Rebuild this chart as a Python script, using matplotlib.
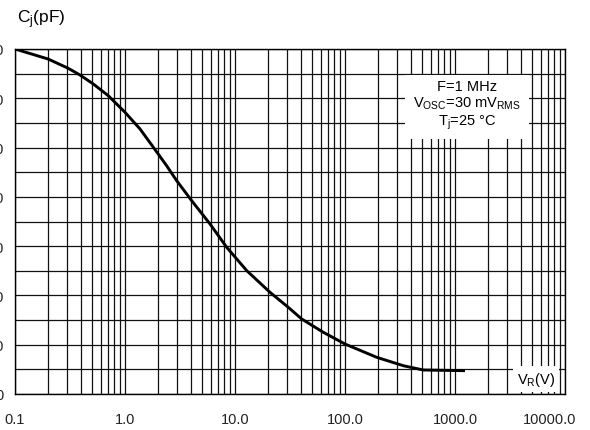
import numpy as np
import matplotlib
matplotlib.use("Agg")
import matplotlib.pyplot as plt
import matplotlib.transforms as mtransforms
from matplotlib.ticker import FixedLocator, NullFormatter

plt.rcParams['font.family'] = ['Liberation Sans', 'DejaVu Sans']
plt.rcParams['mathtext.fontset'] = 'custom'
plt.rcParams['mathtext.rm'] = 'Liberation Sans'
plt.rcParams['mathtext.it'] = 'Liberation Sans'

# data
vr = [0.1, 0.2, 0.305, 0.39, 0.515, 0.705, 1.0, 1.37, 1.81, 2.39, 2.95, 4.04,
      5.93, 8.40, 12.8, 20.8, 30.5, 40.4, 63.5, 100, 194, 339, 515, 1233]
cj = [70.0, 67.97, 66.08, 64.72, 62.90, 60.52, 57.16, 53.77, 50.06, 46.32, 43.28,
      39.22, 34.49, 29.77, 25.02, 20.63, 17.59, 15.22, 12.52, 10.14, 7.45, 5.74,
      4.87, 4.73]
x_ticks = [0.1, 1.0, 10.0, 100.0, 1000.0, 10000.0]
x_labels = ["0.1", "1.0", "10.0", "100.0", "1000.0", "10000.0"]
y_ticks = [0, 10, 20, 30, 40, 50, 60, 70]

W, H = 590, 431
fig = plt.figure(figsize=(W/100, H/100), dpi=100)
ax = fig.add_axes([15/W, (H-395)/H, 550/W, 345/H])
ax.set_xscale('log')
ax.set_xlim(0.1, 10000)
ax.set_ylim(0, 70)

ax.set_xticks(x_ticks)
ax.set_xticklabels(x_labels)
minor_x = [m*10.0**e for e in range(-1, 4) for m in range(2, 10)]
ax.xaxis.set_minor_locator(FixedLocator(minor_x))
ax.xaxis.set_minor_formatter(NullFormatter())
ax.set_yticks(y_ticks)
ax.set_yticklabels([str(v) for v in y_ticks])
ax.yaxis.set_minor_locator(FixedLocator([5, 15, 25, 35, 45, 55, 65]))
ax.tick_params(which='both', length=0, labelsize=10.5, colors='#222222')
ax.tick_params(axis='x', pad=13)
ax.tick_params(axis='y', pad=8)

# shift the last x label left so it fits in the figure
last = ax.get_xticklabels()[-1]
last.set_transform(last.get_transform() +
                   mtransforms.ScaledTranslation(-15/100, 0, fig.dpi_scale_trans))

ax.grid(True, which='both', color='#111111', linewidth=0.9)
ax.set_axisbelow(True)
for s in ax.spines.values():
    s.set_color('black')
    s.set_linewidth(1.0)

ax.plot(vr, cj, color='black', linewidth=2.1, solid_capstyle='butt',
        solid_joinstyle='round', zorder=3)

# condition box
fig.text(467/W, 1-106/H,
         "F=1 MHz\n" + r"V$_{\mathrm{OSC}}$=30 mV$_{\mathrm{RMS}}$" + "\n" + r"T$_{\mathrm{j}}$=25 °C",
         ha='center', va='center', fontsize=10.5, linespacing=1.1,
         bbox=dict(boxstyle='square,pad=0.55', facecolor='white', edgecolor='none'),
         zorder=5)

# axis labels
fig.text(536/W, 1-380/H, r"V$_{\mathrm{R}}$(V)", ha='center', va='center', fontsize=10.5,
         bbox=dict(boxstyle='square,pad=0.25', facecolor='white', edgecolor='none'), zorder=5)
fig.text(17/W, 1-20/H, r"C$_{\mathrm{j}}$(pF)", ha='left', va='center', fontsize=12.5)

fig.savefig('out.png', dpi=100)
